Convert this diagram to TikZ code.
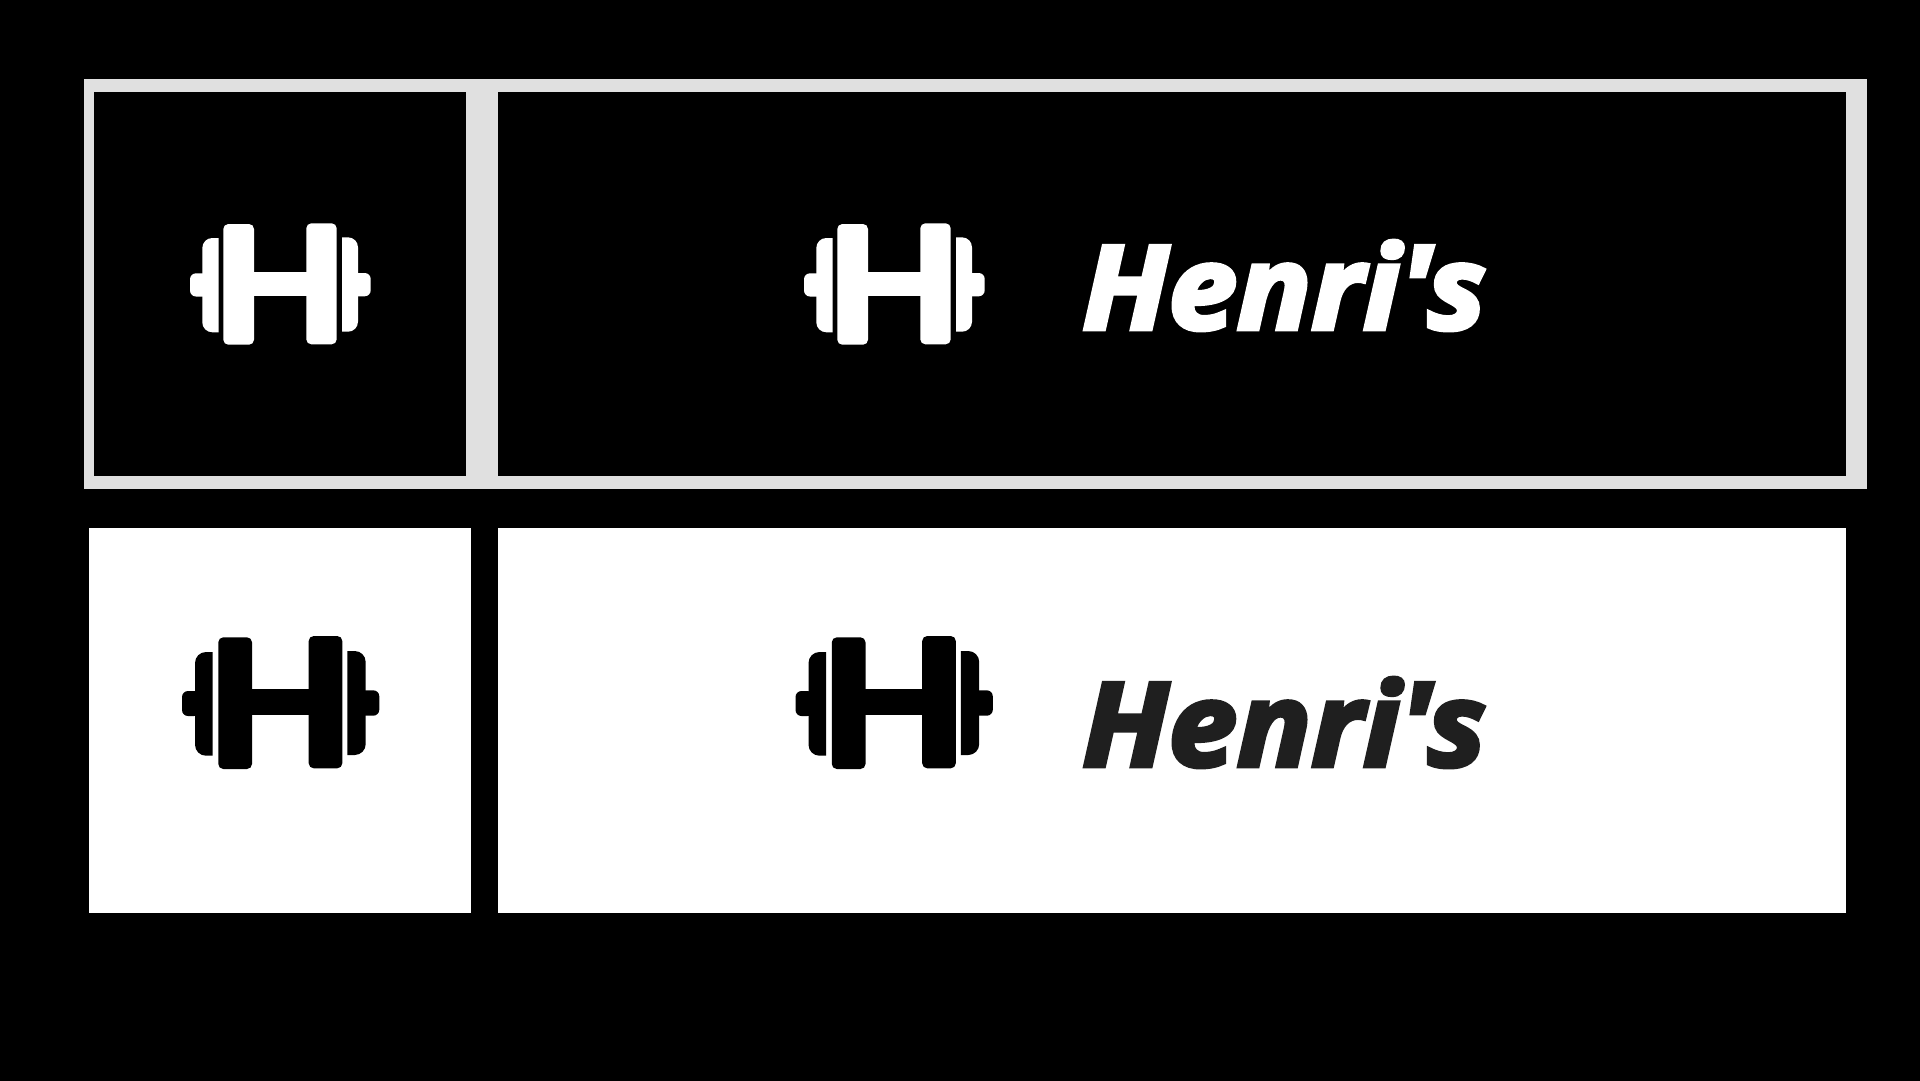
\documentclass[tikz,border=0pt]{standalone}
\usepackage{fontspec}
\newfontfamily\brandfont[BoldItalicFeatures={FakeBold=4,FakeStretch=1.062}]{Open Sans}
\definecolor{framegray}{HTML}{E0E0E0}
\definecolor{inkdark}{HTML}{1F1F1F}
\tikzset{
  brand/.style={anchor=base west,inner sep=0pt,font=\fontsize{116}{116}\selectfont\brandfont\bfseries\itshape},
  lightbell/.pic={
    \fill[rounded corners=6] (190,273.3) rectangle (210,296.5);
    \fill (218.7,238) [rounded corners=10] -- (202.3,238) -- (202.3,332.3) [sharp corners] -- (218.7,332.3) -- cycle;
    \fill[rounded corners=5] (223.3,224) rectangle (254,344.7);
    \fill (250,272) rectangle (310,296);
    \fill[rounded corners=5] (306.3,223.3) rectangle (336.7,344.3);
    \fill (342,237.3) [rounded corners=10] -- (358,237.3) -- (358,331.7) [sharp corners] -- (342,331.7) -- cycle;
    \fill[rounded corners=6] (350,273) rectangle (370.7,296.3);
  },
  darkbell/.pic={
    \fill[rounded corners=6] (182,691) rectangle (200,716);
    \fill (212.7,652) [rounded corners=11] -- (195,652) -- (195,755.7) [sharp corners] -- (212.7,755.7) -- cycle;
    \fill[rounded corners=5] (218.3,637.3) rectangle (252,769);
    \fill (248,689.3) rectangle (312,715.3);
    \fill[rounded corners=5] (308.7,636) rectangle (342.3,768.3);
    \fill (347.3,651) [rounded corners=11] -- (365.7,651) -- (365.7,755) [sharp corners] -- (347.3,755) -- cycle;
    \fill[rounded corners=6] (358,690.3) rectangle (379.3,715.7);
  }
}
\begin{document}
\begin{tikzpicture}[x=1pt,y=-1pt]
\useasboundingbox (0,0) rectangle (1920,1080);
\fill[black] (-5,-5) rectangle (1925,1085);
% top frame
\fill[framegray] (84,79) rectangle (1867,489);
\fill[black] (94.3,92) rectangle (465.7,476);
\fill[black] (498,92) rectangle (1846,476);
\pic[white] at (0,0) {lightbell};
\pic[white] at (614,0) {lightbell};
\node[brand,text=white] (topname) at (1082,329) {Henri's};
% bottom panels
\fill[white] (89.3,528) rectangle (471.3,913);
\fill[white] (498,528) rectangle (1846,913);
\pic[black] at (0,0) {darkbell};
\pic[black] at (613.5,0) {darkbell};
\node[brand,text=inkdark] (bottomname) at (1082,766) {Henri's};
\end{tikzpicture}
\end{document}
